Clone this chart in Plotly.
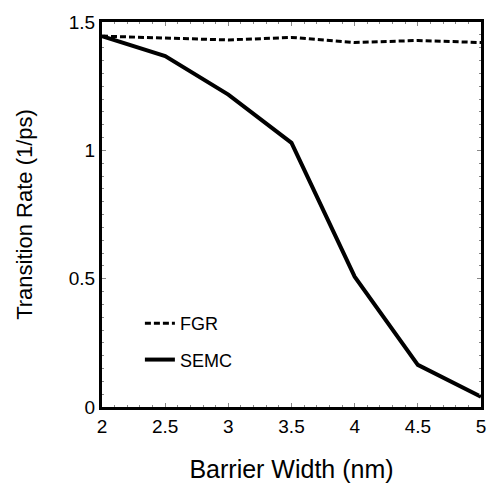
import plotly.graph_objects as go

barrier_width = [2.0, 2.5, 3.0, 3.5, 4.0, 4.5, 5.0]
fgr_rate = [1.445, 1.438, 1.430, 1.440, 1.420, 1.428, 1.420]
semc_rate = [1.445, 1.367, 1.217, 1.029, 0.508, 0.164, 0.040]

x_ticks = [2, 2.5, 3, 3.5, 4, 4.5, 5]
x_tick_text = ["2", "2.5", "3", "3.5", "4", "4.5", "5"]
y_ticks = [0, 0.5, 1, 1.5]
y_tick_text = ["0", "0.5", "1", "1.5"]

font_family = "Liberation Sans, Arial, Helvetica, sans-serif"

fig = go.Figure()
fig.add_trace(go.Scatter(
    x=barrier_width, y=fgr_rate, mode="lines", name="FGR",
    legendgroup="a",
    line=dict(color="black", width=3, dash="6px,3px"),
))
fig.add_trace(go.Scatter(
    x=barrier_width, y=semc_rate, mode="lines", name="SEMC",
    legendgroup="b",
    line=dict(color="black", width=4),
))

axis_common = dict(
    showline=True, linecolor="black", linewidth=3, mirror="ticks",
    ticks="inside", ticklen=4, tickwidth=1, tickcolor="#888888",
    showgrid=False, zeroline=False,
    tickfont=dict(family=font_family, size=19, color="black"),
)

fig.update_xaxes(
    range=[2, 5], tickvals=x_ticks, ticktext=x_tick_text,
    title=dict(text="Barrier Width (nm)", font=dict(family=font_family, size=25, color="black"), standoff=25),
    minor=dict(ticks="inside", ticklen=2, tickcolor="#888888", dtick=0.1, tick0=2),
    **axis_common,
)
fig.update_yaxes(
    range=[0, 1.5], tickvals=y_ticks, ticktext=y_tick_text,
    title=dict(text="Transition Rate (1/ps)", font=dict(family=font_family, size=22, color="black"), standoff=31),
    minor=dict(ticks="inside", ticklen=2, tickcolor="#888888", dtick=0.05, tick0=0),
    **axis_common,
)

fig.update_layout(
    width=491, height=487,
    margin=dict(l=102, r=5, t=22, b=80),
    paper_bgcolor="white", plot_bgcolor="white",
    font=dict(family=font_family, color="black"),
    showlegend=True,
    legend=dict(
        x=0.10, y=0.265, xanchor="left", yanchor="top",
        bgcolor="rgba(0,0,0,0)", borderwidth=0,
        font=dict(family=font_family, size=18, color="black"),
        traceorder="grouped", tracegroupgap=10,
        itemwidth=30,
    ),
)

fig.write_html("out.html", config={"displayModeBar": False},
               post_script="document.body.style.margin='0';")
